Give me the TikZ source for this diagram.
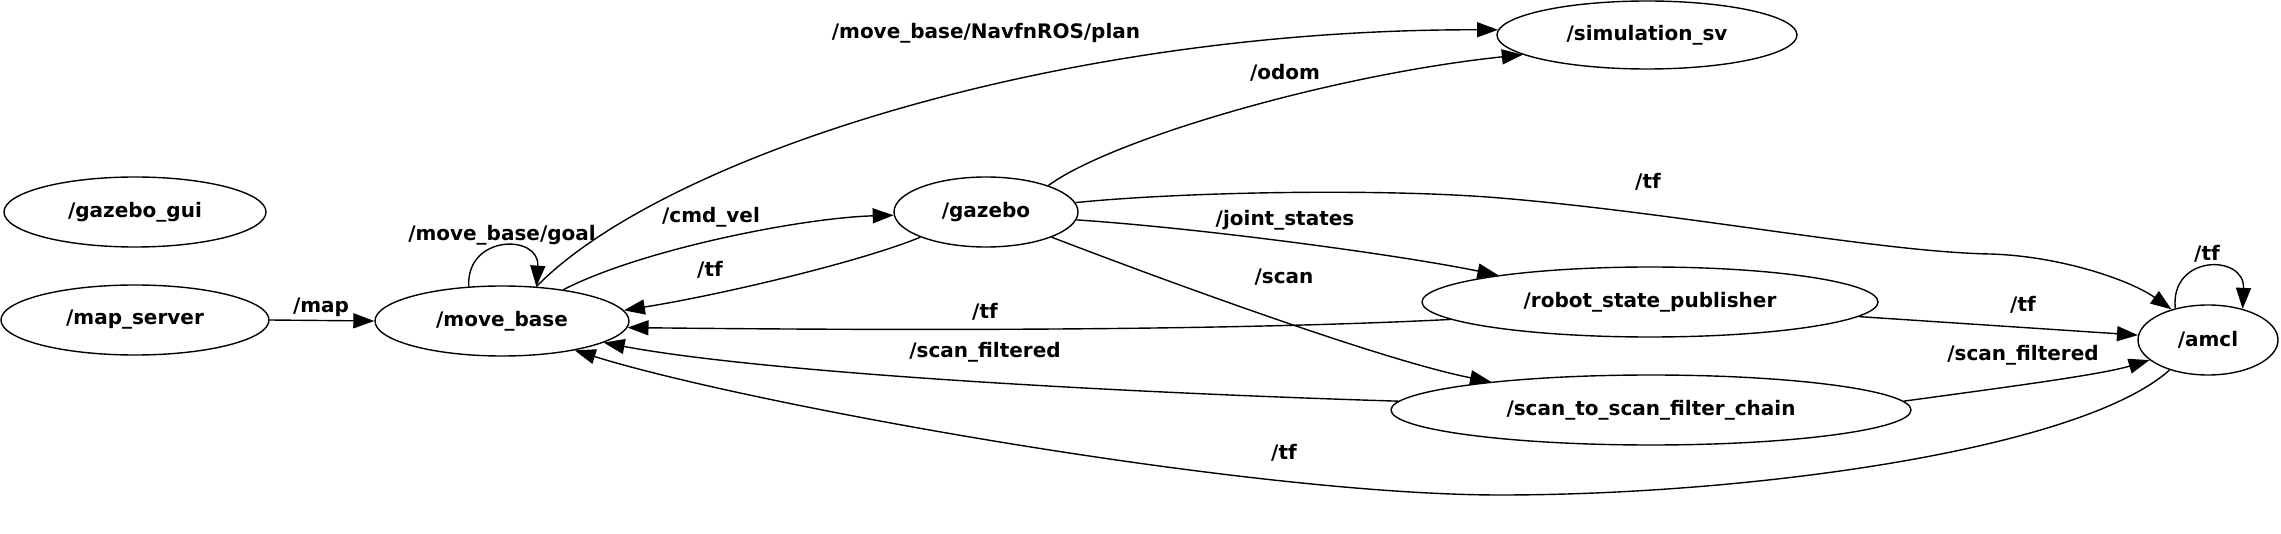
\documentclass[tikz,border=0pt]{standalone}
\usepackage{fontspec}
\setmainfont{DejaVu Sans}
\usetikzlibrary{arrows.meta, shapes.geometric}

\begin{document}
\begin{tikzpicture}[
  x=1pt, y=-1pt,
  rosnode/.style={draw, ellipse, line width=1.4pt, inner sep=0pt, minimum height=70pt,
                  font=\bfseries\fontsize{20}{24}\selectfont},
  topic/.style={inner sep=0pt, font=\bfseries\fontsize{20}{24}\selectfont},
  arr/.style={-{Triangle[length=21pt, width=15pt]}, line width=1.4pt}
]
\useasboundingbox (0,0) rectangle (2281,534);

% ROS nodes
\node[rosnode, minimum width=262pt] (gazebogui) at (135,212) {/gazebo\_gui};
\node[rosnode, minimum width=268pt] (mapserver) at (135,320) {/map\_server};
\node[rosnode, minimum width=254pt] (movebase) at (502,321) {/move\_base};
\node[rosnode, minimum width=184pt] (gazebo) at (986,212) {/gazebo};
\node[rosnode, minimum width=300pt, minimum height=68pt] (simsv) at (1647,35) {/simulation\_sv};
\node[rosnode, minimum width=456pt] (rsp) at (1650,302) {/robot\_state\_publisher};
\node[rosnode, minimum width=520pt] (chain) at (1651,410) {/scan\_to\_scan\_filter\_chain};
\node[rosnode, minimum width=140pt] (amcl) at (2208,340) {/amcl};

% topics
\draw[arr] (mapserver.0) -- (movebase.180);
\draw[arr] (movebase.134) .. controls (466,234) and (540,234) .. (movebase.45);
\draw[arr] (movebase.45) .. controls (660,160) and (1050,29) .. (simsv.178);
\draw[arr] (movebase.27) .. controls (640,250) and (800,218) .. (gazebo.182);
\draw[arr] (gazebo.201) .. controls (860,262) and (720,295) .. (movebase.5);
\draw[arr] (gazebo.23) .. controls (1110,140) and (1330,75) .. (simsv.189);
\draw[arr] (gazebo.6) .. controls (1180,192) and (1380,188) .. (1500,198)
  .. controls (1680,213) and (1880,252) .. (1990,254)
  .. controls (2060,256) and (2130,280) .. (amcl.140);
\draw[arr] (gazebo.-5) .. controls (1200,228) and (1400,255) .. (rsp.170);
\draw[arr] (gazebo.-21) .. controls (1150,275) and (1380,360) .. (chain.170);
\draw[arr] (rsp.185) .. controls (1200,332) and (850,330) .. (movebase.-3);
\draw[arr] (chain.178) .. controls (1100,392) and (760,372) .. (movebase.-12);
\draw[arr] (rsp.-4) -- (amcl.176);
\draw[arr] (chain.2) .. controls (2000,388) and (2100,375) .. (amcl.199);
\draw[arr] (amcl.136) .. controls (2170,254) and (2245,254) .. (amcl.42);
\draw[arr] (amcl.218) .. controls (2080,450) and (1750,495) .. (1500,495)
  .. controls (1250,495) and (750,405) .. (movebase.-22);

% topic labels
\node[topic] (lmap) at (321,307) {/map};
\node[topic] (lgoal) at (502,235) {/move\_base/goal};
\node[topic] (lplan) at (986,33) {/move\_base/NavfnROS/plan};
\node[topic] (lcmd) at (711,217) {/cmd\_vel};
\node[topic] (ltfa) at (710,270) {/tf};
\node[topic] (lodom) at (1285,73) {/odom};
\node[topic] (ltfb) at (1648,182) {/tf};
\node[topic] (ljoint) at (1285,220) {/joint\_states};
\node[topic] (lscan) at (1284,277) {/scan};
\node[topic] (ltfc) at (985,312) {/tf};
\node[topic] (lfilta) at (985,352) {/scan\_filtered};
\node[topic] (ltfd) at (2023,305) {/tf};
\node[topic] (lfiltb) at (2023,355) {/scan\_filtered};
\node[topic] (ltfe) at (2207,254) {/tf};
\node[topic] (ltff) at (1284,453) {/tf};
\end{tikzpicture}
\end{document}
